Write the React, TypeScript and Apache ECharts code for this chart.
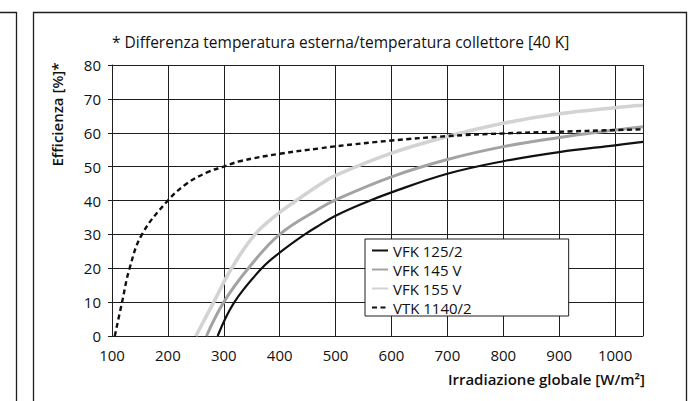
import React, { useEffect, useRef } from "react";
import * as echarts from "echarts";

const titleText = "* Differenza temperatura esterna/temperatura collettore [40 K]";
const yAxisName = "Efficienza [%]*";
const xAxisName = "Irradiazione globale [W/m²]";
const seriesNames = ["VFK 125/2", "VFK 145 V", "VFK 155 V", "VTK 1140/2"];

const vfk125X = [289, 319, 368, 400, 445, 472, 500, 550, 600, 700, 800, 900, 1000, 1050];
const vfk125Y = [0, 10, 20, 24.6, 30, 32.8, 35.5, 39.2, 42.4, 47.9, 51.6, 54.3, 56.3, 57.3];

const vfk145X = [269, 300, 344, 400, 472, 500, 600, 700, 800, 900, 1000, 1050];
const vfk145Y = [0, 10, 20, 30, 37.7, 40.2, 47, 52.1, 55.9, 58.6, 60.8, 61.8];

const vfk155X = [250, 282, 314, 356, 400, 430, 472, 500, 600, 700, 800, 900, 1000, 1050];
const vfk155Y = [0, 10, 20, 30, 36.5, 40, 44.7, 47.4, 54, 58.9, 62.8, 65.6, 67.4, 68.1];

const vtkX = [105, 118, 131.5, 153.6, 200, 234, 270, 300, 329, 400, 472, 500, 600, 700, 800, 900, 1000, 1050];
const vtkY = [0, 10, 20, 30, 40, 45, 48.3, 50, 51.6, 53.8, 55.4, 56, 57.7, 59, 59.8, 60.3, 60.8, 61];

const zip = (xs: number[], ys: number[]) => xs.map((x, i) => [x, ys[i]]);

const FONT = "'Open Sans', Roboto, 'DejaVu Sans', sans-serif";
const LINE = "#1e1e1e";

export default function App() {
  const ref = useRef<HTMLDivElement>(null);
  useEffect(() => {
    if (!ref.current) return;
    const chart = echarts.init(ref.current, undefined, { renderer: "svg" });
    const mk = (name: string, xs: number[], ys: number[], color: string, width: number, z: number, dashed?: boolean) => ({
      name,
      type: "line",
      data: zip(xs, ys),
      smooth: 0.4,
      symbol: "none",
      z,
      lineStyle: { color, width, type: dashed ? [5, 3.5] : "solid", cap: "butt" },
      itemStyle: { color },
    });
    chart.setOption({
      animation: false,
      backgroundColor: "#fff",
      textStyle: { fontFamily: FONT },
      grid: { left: 112, top: 65, right: 52, bottom: 65, containLabel: false },
      xAxis: {
        type: "value",
        min: 100,
        max: 1050,
        interval: 100,
        axisLine: { show: true, lineStyle: { color: LINE, width: 1 } },
        axisTick: { show: false },
        axisLabel: {
          color: "#111",
          fontSize: 15,
          fontFamily: FONT,
          margin: 11,
          showMaxLabel: false,
          formatter: (v: number) => String(v),
        },
        splitLine: { show: true, lineStyle: { color: LINE, width: 1 } },
      },
      yAxis: {
        type: "value",
        min: 0,
        max: 80,
        interval: 10,
        axisLine: { show: true, lineStyle: { color: LINE, width: 1 } },
        axisTick: { show: true, length: 4, lineStyle: { color: LINE, width: 1 } },
        axisLabel: { color: "#111", fontSize: 15, fontFamily: FONT, margin: 11, formatter: (v: number) => String(v) },
        splitLine: { show: true, lineStyle: { color: LINE, width: 1 } },
      },
      legend: {
        orient: "vertical",
        left: 365,
        top: 239,
        data: seriesNames,
        itemWidth: 16,
        itemHeight: 8,
        itemGap: 4,
        padding: [4, 97, 1, 6],
        backgroundColor: "#fff",
        borderColor: LINE,
        borderWidth: 1,
        borderRadius: 0,
        itemStyle: { color: "transparent", borderWidth: 0, opacity: 0 },
        textStyle: { color: "#111", fontSize: 15, lineHeight: 15, fontFamily: FONT },
      },
      graphic: [
        { type: "polyline", shape: { points: [[0, 12.5], [16.5, 12.5], [16.5, 401]] }, style: { stroke: LINE, lineWidth: 1.3, fill: "none" } },
        { type: "polyline", shape: { points: [[33.5, 401], [33.5, 12.5], [686.5, 12.5], [686.5, 401]] }, style: { stroke: LINE, lineWidth: 1.3, fill: "none" } },
        { type: "text", x: 112, y: 42, style: { text: titleText, font: `15.5px ${FONT}`, fill: "#111", verticalAlign: "middle", align: "left" } },
        { type: "text", x: 57, y: 114.5, rotation: Math.PI / 2, style: { text: yAxisName, font: `600 15px ${FONT}`, fill: "#111", verticalAlign: "middle", align: "center" } },
        { type: "text", x: 645, y: 379, style: { text: xAxisName, font: `600 15px ${FONT}`, fill: "#111", verticalAlign: "middle", align: "right" } },
      ],
      series: [
        mk(seriesNames[0], vfk125X, vfk125Y, "#111111", 2.2, 4),
        mk(seriesNames[1], vfk145X, vfk145Y, "#a3a3a3", 3, 3),
        mk(seriesNames[2], vfk155X, vfk155Y, "#d3d3d3", 3.6, 2),
        mk(seriesNames[3], vtkX, vtkY, "#111111", 2.4, 5, true),
      ],
    });
    return () => chart.dispose();
  }, []);
  return <div ref={ref} style={{ position: "fixed", left: 0, top: 0, width: 695, height: 401 }} />;
}
